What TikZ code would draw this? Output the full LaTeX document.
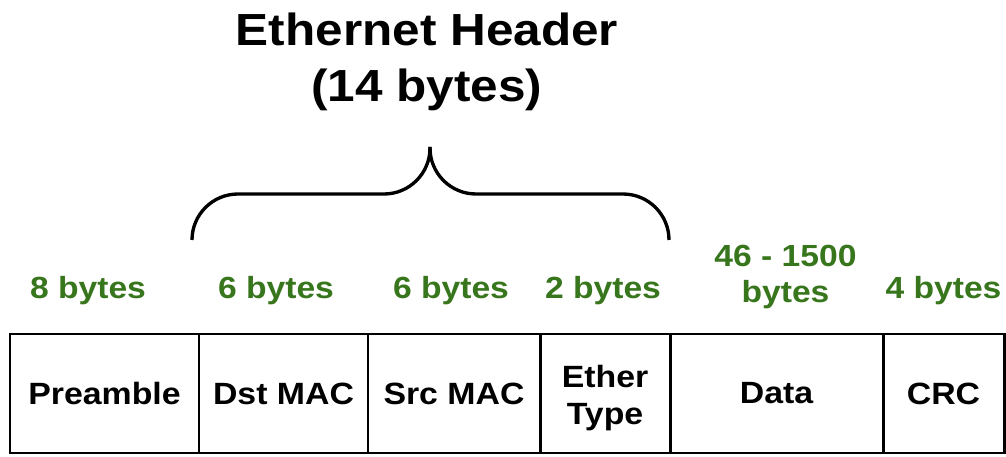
\documentclass[tikz,border=0pt]{standalone}
\usepackage{fontspec}
\setmainfont{Liberation Sans}[FakeStretch=1.1]
\usepackage{xcolor}
\usepackage{tikz}
\usetikzlibrary{positioning}
\definecolor{bytegreen}{RGB}{56,118,29}

\tikzset{
  field/.style={draw,line width=1.7pt,minimum height=2.38cm,outer sep=0pt,
    inner sep=2pt,align=center,font=\fontsize{17.5}{21}\selectfont\bfseries},
  sizelbl/.style={anchor=base,inner sep=0pt,text=bytegreen,align=center,
    font=\fontsize{17.4}{20.5}\selectfont\bfseries},
  hdrbrace/.style={line width=1.9pt,rounded corners=0.92cm}
}

\begin{document}
\begin{tikzpicture}
  \useasboundingbox (0,0) rectangle (20.12,9.12);
  % frame fields, left to right
  \node[field,minimum width=3.78cm,anchor=south west] (pre) at (0.2,0.06) {Preamble};
  \node[field,minimum width=3.38cm,right=0pt of pre] (dst) {Dst MAC};
  \node[field,minimum width=3.44cm,right=0pt of dst] (src) {Src MAC};
  \node[field,minimum width=2.60cm,right=0pt of src] (eth)
    {\raisebox{-0.1cm}[\height][\depth]{\begin{tabular}{@{}c@{}}Ether\\Type\end{tabular}}};
  \node[field,minimum width=4.26cm,right=0pt of eth] (data) {Data};
  \node[field,minimum width=2.42cm,right=0pt of data] (crc) {CRC};
  % sizes in green
  \node[sizelbl] (pre-sz) at ([xshift=-0.33cm,yshift=0.70cm]pre.north) {8 bytes};
  \node[sizelbl] (dst-sz) at ([xshift=-0.15cm,yshift=0.70cm]dst.north) {6 bytes};
  \node[sizelbl] (src-sz) at ([xshift=-0.06cm,yshift=0.70cm]src.north) {6 bytes};
  \node[sizelbl] (eth-sz) at ([xshift=-0.04cm,yshift=0.70cm]eth.north) {2 bytes};
  \node[sizelbl,anchor=north] (data-sz) at ([xshift=0.18cm,yshift=1.78cm]data.north) {46 - 1500\\bytes};
  \node[sizelbl] (crc-sz) at ([yshift=0.70cm]crc.north) {4 bytes};
  % header brace
  \coordinate (hdr-l) at (3.84,4.32);
  \coordinate (hdr-r) at (13.38,4.32);
  \coordinate (hdr-mid) at (8.6,5.24);
  \coordinate (hdr-tip) at (8.6,6.18);
  \draw[hdrbrace] (hdr-l) |- (hdr-mid) -- (hdr-tip);
  \draw[hdrbrace] (hdr-r) |- (hdr-mid) -- (hdr-tip);
  \node[inner sep=0pt,anchor=north,align=center,
    font=\fontsize{25.6}{32}\selectfont\bfseries] (hdr) at (8.54,8.87)
    {Ethernet Header\\(14 bytes)};
\end{tikzpicture}
\end{document}
